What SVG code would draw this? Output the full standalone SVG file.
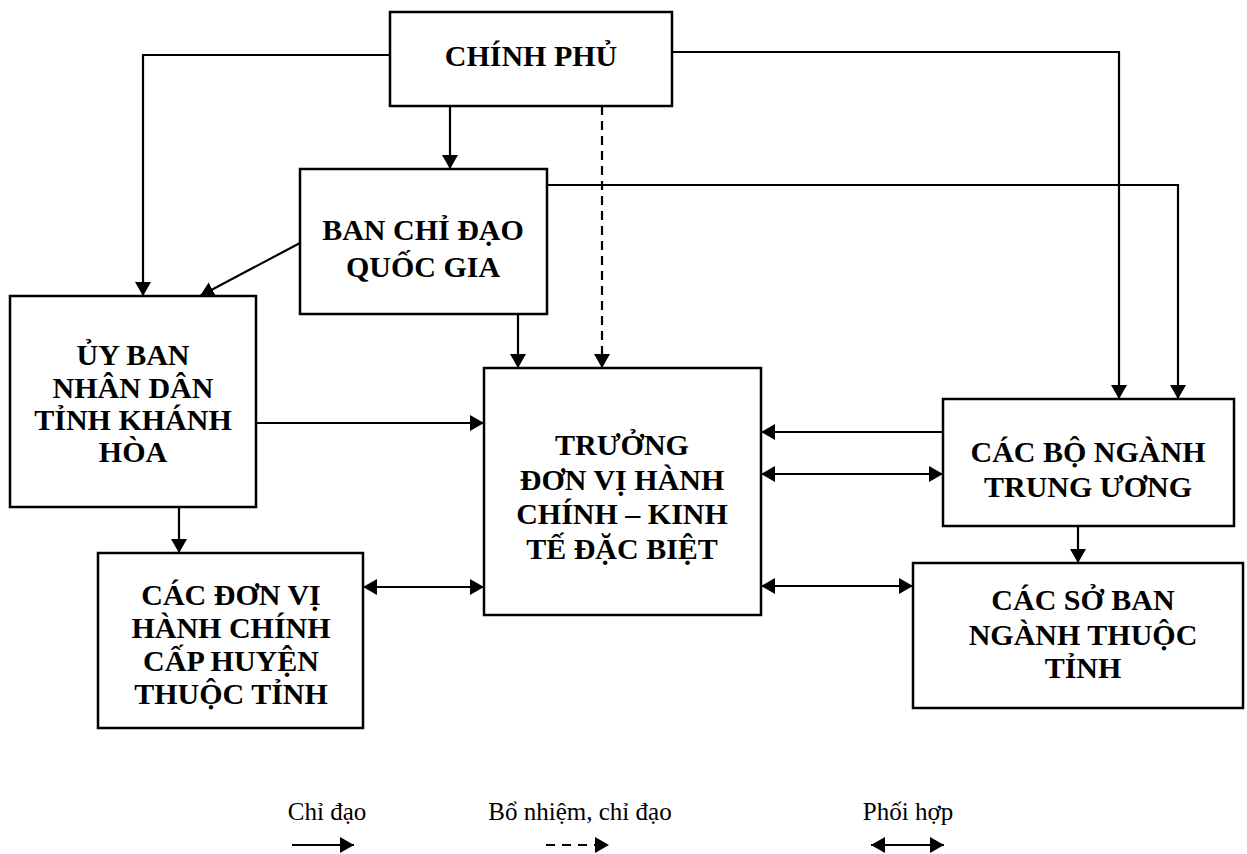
<svg xmlns="http://www.w3.org/2000/svg" width="1247" height="854" viewBox="0 0 1247 854">
<style>
.box{fill:#fff;stroke:#000;stroke-width:2.5}
.t{font-family:"Liberation Serif","Times New Roman",serif;font-weight:bold;font-size:30px;text-anchor:middle;fill:#000}
.lg{font-family:"Liberation Serif","Times New Roman",serif;font-size:25px;text-anchor:middle;fill:#000}
.c{fill:none;stroke:#000;stroke-width:2.2}
.a{marker-end:url(#ah)}
.d{marker-start:url(#ah);marker-end:url(#ah)}
.dash{stroke-dasharray:9 6}
</style>
<defs>
<marker id="ah" markerUnits="userSpaceOnUse" markerWidth="16" markerHeight="16" refX="14" refY="8" orient="auto-start-reverse" viewBox="0 0 16 16">
<path d="M0,0 L14,8 L0,16 z" fill="#000"/>
</marker>
</defs>
<rect width="1247" height="854" fill="#fff"/>
<g id="connectors">
<path class="c a" d="M390,55 H143 V296"/>
<path class="c a" d="M450,106 V169"/>
<path class="c a dash" d="M602,106 V368"/>
<path class="c a" d="M672,52 H1119 V399"/>
<path class="c a" d="M547,185 H1178 V399"/>
<path class="c a" d="M300,243 L200,296"/>
<path class="c a" d="M518,314 V368"/>
<path class="c a" d="M256,423 H484"/>
<path class="c a" d="M179,507 V553"/>
<path class="c d" d="M363,587 H484"/>
<path class="c a" d="M943,432 H761"/>
<path class="c d" d="M761,474 H943"/>
<path class="c a" d="M1078,526 V563"/>
<path class="c d" d="M761,586 H913"/>
</g>
<g id="chinh-phu">
<rect class="box" x="390" y="12" width="282" height="94"/>
<text class="t" x="531" y="66">CHÍNH PHỦ</text>
</g>
<g id="ban-chi-dao">
<rect class="box" x="300" y="169" width="247" height="145"/>
<text class="t" x="423" y="240">BAN CHỈ ĐẠO</text>
<text class="t" x="423" y="277">QUỐC GIA</text>
</g>
<g id="ubnd">
<rect class="box" x="10" y="296" width="246" height="211"/>
<text class="t" x="133" y="365">ỦY BAN</text>
<text class="t" x="133" y="398">NHÂN DÂN</text>
<text class="t" x="133" y="430">TỈNH KHÁNH</text>
<text class="t" x="133" y="462">HÒA</text>
</g>
<g id="truong">
<rect class="box" x="484" y="368" width="277" height="247"/>
<text class="t" x="622" y="455">TRƯỞNG</text>
<text class="t" x="622" y="490">ĐƠN VỊ HÀNH</text>
<text class="t" x="622" y="524">CHÍNH – KINH</text>
<text class="t" x="622" y="559">TẾ ĐẶC BIỆT</text>
</g>
<g id="don-vi">
<rect class="box" x="98" y="553" width="265" height="175"/>
<text class="t" x="231" y="605">CÁC ĐƠN VỊ</text>
<text class="t" x="231" y="638">HÀNH CHÍNH</text>
<text class="t" x="231" y="671">CẤP HUYỆN</text>
<text class="t" x="231" y="704">THUỘC TỈNH</text>
</g>
<g id="bo-nganh">
<rect class="box" x="943" y="399" width="291" height="127"/>
<text class="t" x="1088" y="462">CÁC BỘ NGÀNH</text>
<text class="t" x="1088" y="497">TRUNG ƯƠNG</text>
</g>
<g id="so-ban">
<rect class="box" x="913" y="563" width="330" height="145"/>
<text class="t" x="1083" y="610">CÁC SỞ BAN</text>
<text class="t" x="1083" y="645">NGÀNH THUỘC</text>
<text class="t" x="1083" y="678">TỈNH</text>
</g>
<g id="legend">
<text class="lg" x="327" y="820">Chỉ đạo</text>
<text class="lg" x="580" y="820">Bổ nhiệm, chỉ đạo</text>
<text class="lg" x="908" y="820">Phối hợp</text>
<path class="c a" d="M292,845 H354" stroke-width="3"/>
<path class="c a" d="M546,845 H609" stroke-dasharray="9 7" stroke-width="2.5"/>
<path class="c d" d="M871,845 H944" stroke-width="3"/>
</g>
</svg>
